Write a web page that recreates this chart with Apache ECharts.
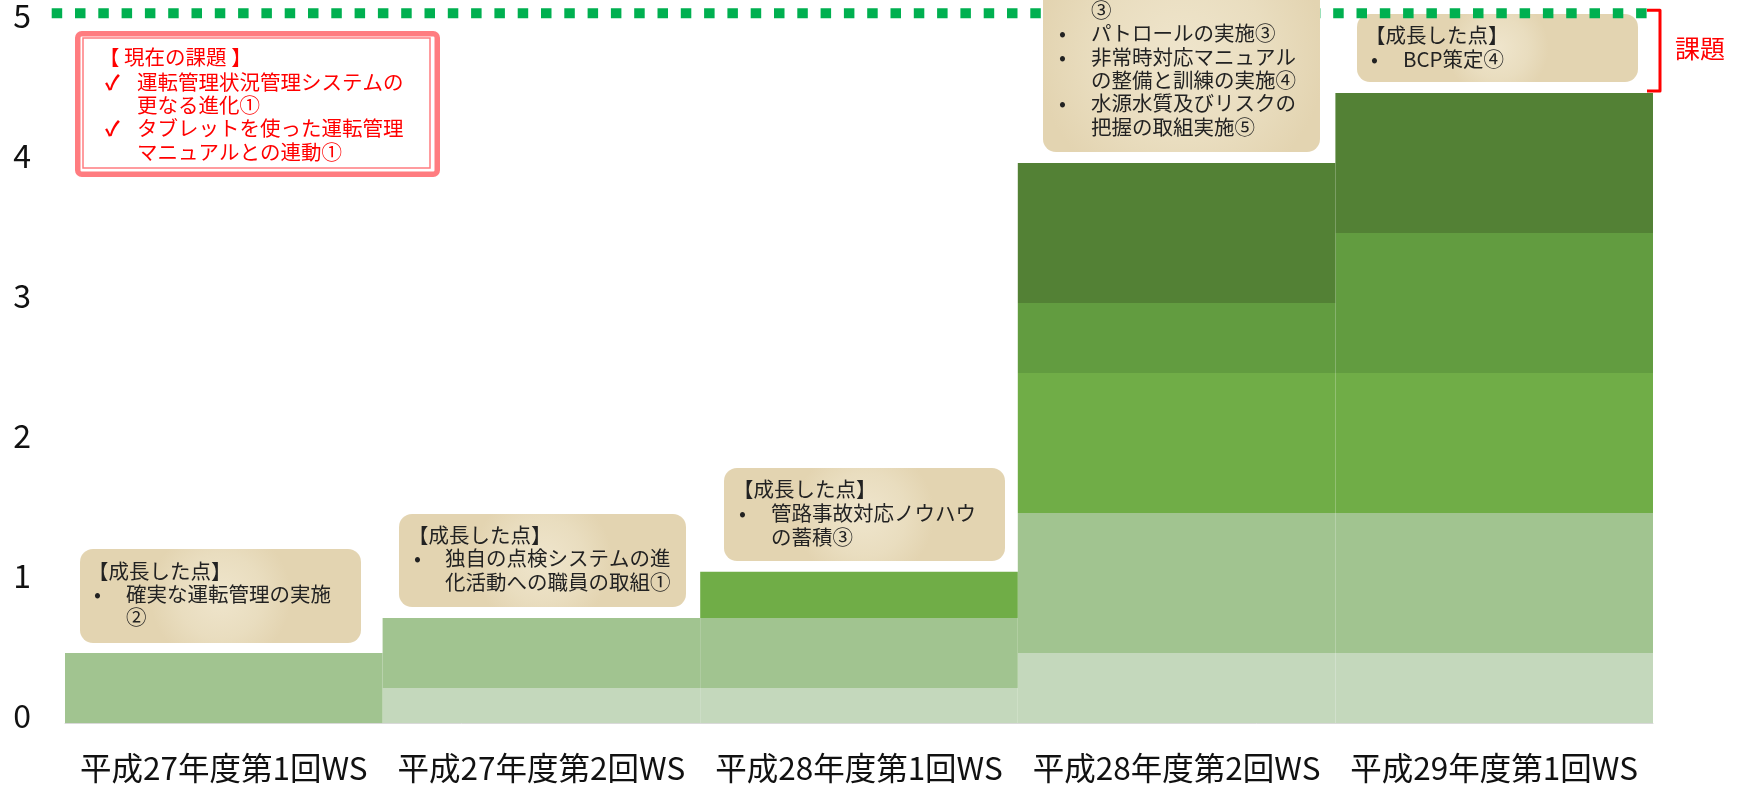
<!DOCTYPE html>
<html>
<head>
<meta charset="utf-8">
<script src="https://cdn.jsdelivr.net/npm/echarts@6/dist/echarts.min.js"></script>
<style>
html,body{margin:0;padding:0;background:#fff;}
#chart{width:1740px;height:787px;}
</style>
</head>
<body>
<div id="chart"></div>
<script>
// ---- data ----
const categories = ['平成27年度第1回WS','平成27年度第2回WS','平成28年度第1回WS','平成28年度第2回WS','平成29年度第1回WS'];
const level1 = [0, 0.25, 0.25, 0.5, 0.5];
const level2 = [0.5, 0.5, 0.5, 1.0, 1.0];
const level3 = [0, 0, 0.33, 1.0, 1.0];
const level4 = [0, 0, 0, 0.5, 1.0];
const level5 = [0, 0, 0, 1.0, 1.0];
const yTicks = [0, 1, 2, 3, 4, 5];
const goalLevel = 5.07;
const gapTop = 4.5;

const growthNotes = [
  ['【成長した点】', '•確実な運転管理の実施', '②'],
  ['【成長した点】', '•独自の点検システムの進', '化活動への職員の取組①'],
  ['【成長した点】', '•管路事故対応ノウハウ', 'の蓄積③'],
  ['③', '•パトロールの実施③', '•非常時対応マニュアル', 'の整備と訓練の実施④', '•水源水質及びリスクの', '把握の取組実施⑤'],
  ['【成長した点】', '•BCP策定④']
];
const issueNotes = ['【 現在の課題 】', '✓運転管理状況管理システムの', '更なる進化①', '✓タブレットを使った運転管理', 'マニュアルとの連動①'];
const issueLabel = '課題';

const colors = ['#c4d8bc', '#a1c490', '#70ad47', '#629c40', '#538135'];
const FONT = '"Noto Sans CJK JP", "Noto Sans", sans-serif';

const chart = echarts.init(document.getElementById('chart'));
const levels = [level1, level2, level3, level4, level5];

chart.setOption({
  animation: false,
  grid: {left: 65, right: 87, top: 23, bottom: 64, containLabel: false},
  xAxis: {
    type: 'category', data: categories,
    axisLine: {show: true, lineStyle: {color: '#d9d9d9', width: 1}},
    axisTick: {show: false},
    axisLabel: {fontFamily: FONT, fontSize: 31.5, color: '#111', margin: 29, interval: 0}
  },
  yAxis: {
    type: 'value', min: yTicks[0], max: yTicks[yTicks.length - 1], interval: 1,
    axisLine: {show: false}, axisTick: {show: false}, splitLine: {show: false},
    axisLabel: {
      margin: 34,
      formatter: '{a|{value}}',
      rich: {a: {fontFamily: FONT, fontSize: 32, color: '#111', padding: [0, 0, 14, 0]}}
    }
  },
  series: levels.map((d, i) => ({
    type: 'bar', stack: 'total', data: d, barCategoryGap: 0, barGap: 0,
    itemStyle: {color: colors[i]}, silent: true
  }))
});

// ---- annotations ----
const yGoal = chart.convertToPixel({yAxisIndex: 0}, goalLevel);
const yGap = chart.convertToPixel({yAxisIndex: 0}, gapTop);

const boxLayouts = [
  {x: 80, y: 549, w: 281, h: 94, bx: 94, cx: 126, ly: [571, 594, 617], z: 10},
  {x: 399, y: 514, w: 287, h: 93, bx: 414, cx: 445, ly: [535, 558, 582], z: 10},
  {x: 724, y: 468, w: 281, h: 93, bx: 739, cx: 771, ly: [489, 513, 537], z: 10},
  {x: 1043, y: -40, w: 277, h: 192, bx: 1059, cx: 1091, ly: [10, 33, 57, 80, 103, 127], z: 20},
  {x: 1357, y: 14, w: 281, h: 68, bx: 1371, cx: 1403, ly: [35, 59], z: 5}
];

const graphics = [];
function lineEls(lines, L, color, z) {
  lines.forEach((t, k) => {
    const y = L.ly[k];
    let x = L.cx, txt = t;
    if (t[0] === '【') { x = L.bx - 6; }
    else if (t[0] === '•' || t[0] === '✓') {
      graphics.push({type: 'text', z: z + 1, style: {text: t[0], x: L.bx, y: y, fill: color, font: (t[0] === '✓' ? 'bold ' : '') + '20.5px ' + FONT, textVerticalAlign: 'middle'}});
      txt = t.slice(1);
    }
    graphics.push({type: 'text', z: z + 1, style: {text: txt, x: x, y: y, fill: color, font: '20.5px ' + FONT, textVerticalAlign: 'middle'}});
  });
}

growthNotes.forEach((lines, i) => {
  const L = boxLayouts[i];
  graphics.push({
    type: 'rect', z: L.z,
    shape: {x: L.x, y: L.y, width: L.w, height: L.h, r: 13},
    style: {fill: new echarts.graphic.RadialGradient(0.5, 0.5, 0.75, [
      {offset: 0, color: '#efe5cc'}, {offset: 0.6, color: '#e9ddbf'}, {offset: 1, color: '#e3d4b1'}
    ])}
  });
  lineEls(lines, L, '#222', L.z);
});

// goal dotted line
graphics.push({
  type: 'line', z: 8,
  shape: {x1: 51.7, y1: yGoal, x2: 1651, y2: yGoal},
  style: {stroke: '#00b050', lineWidth: 10, lineDash: [10.5, 12.8], lineCap: 'butt'}
});

// issue box
graphics.push({type: 'rect', z: 10, shape: {x: 77.75, y: 33.75, width: 359.5, height: 140.5, r: 4},
  style: {fill: '#fff', stroke: '#ff7c80', lineWidth: 5.5}});
graphics.push({type: 'rect', z: 10, shape: {x: 83, y: 38, width: 347, height: 130},
  style: {fill: 'none', stroke: '#ff7c80', lineWidth: 1.5}});
lineEls(issueNotes, {bx: 105, cx: 137, ly: [57, 82, 105, 128, 152]}, '#ff0000', 10);
// bracket
graphics.push({
  type: 'polyline', z: 10,
  shape: {points: [[1647, yGoal - 3], [1660, yGoal - 3], [1660, yGap - 2], [1647, yGap - 2]]},
  style: {stroke: '#ff0000', lineWidth: 3, fill: 'none', lineJoin: 'round'}
});
graphics.push({type: 'text', z: 10, style: {text: issueLabel, x: 1700, y: 48, fill: '#ff0000', font: '25px ' + FONT, textAlign: 'center', textVerticalAlign: 'middle'}});

chart.setOption({graphic: graphics});
</script>
</body>
</html>
